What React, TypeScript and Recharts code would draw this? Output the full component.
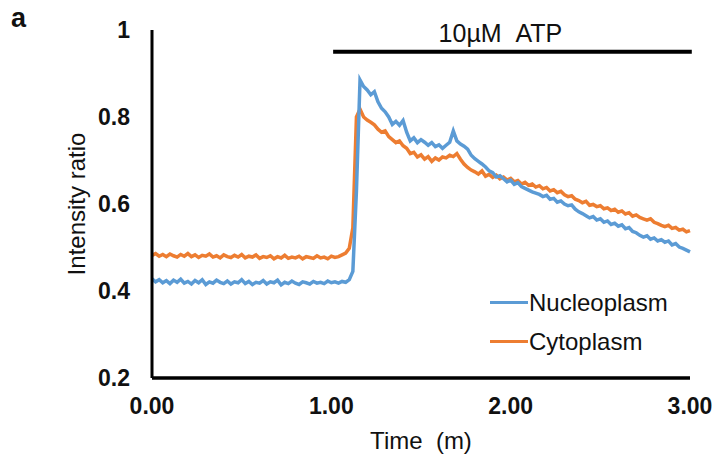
import React from "react"
import {
  LineChart,
  Line,
  XAxis,
  YAxis,
  ReferenceLine,
} from "recharts"

// sample times (minutes)
const times = [
  0.0, 0.02, 0.04, 0.06, 0.08, 0.1, 0.12, 0.14, 0.16, 0.18,
  0.2, 0.22, 0.24, 0.26, 0.28, 0.3, 0.32, 0.34, 0.36, 0.38,
  0.4, 0.42, 0.44, 0.46, 0.48, 0.5, 0.52, 0.54, 0.56, 0.58,
  0.6, 0.62, 0.64, 0.66, 0.68, 0.7, 0.72, 0.74, 0.76, 0.78,
  0.8, 0.82, 0.84, 0.86, 0.88, 0.9, 0.92, 0.94, 0.96, 0.98,
  1.0, 1.02, 1.04, 1.06, 1.08, 1.1, 1.12, 1.14, 1.16, 1.18,
  1.2, 1.22, 1.24, 1.26, 1.28, 1.3, 1.32, 1.34, 1.36, 1.38,
  1.4, 1.42, 1.44, 1.46, 1.48, 1.5, 1.52, 1.54, 1.56, 1.58,
  1.6, 1.62, 1.64, 1.66, 1.68, 1.7, 1.72, 1.74, 1.76, 1.78,
  1.8, 1.82, 1.84, 1.86, 1.88, 1.9, 1.92, 1.94, 1.96, 1.98,
  2.0, 2.02, 2.04, 2.06, 2.08, 2.1, 2.12, 2.14, 2.16, 2.18,
  2.2, 2.22, 2.24, 2.26, 2.28, 2.3, 2.32, 2.34, 2.36, 2.38,
  2.4, 2.42, 2.44, 2.46, 2.48, 2.5, 2.52, 2.54, 2.56, 2.58,
  2.6, 2.62, 2.64, 2.66, 2.68, 2.7, 2.72, 2.74, 2.76, 2.78,
  2.8, 2.82, 2.84, 2.86, 2.88, 2.9, 2.92, 2.94, 2.96, 2.98,
  3.0,
]

const nucleoplasm = [
  0.428, 0.421, 0.426, 0.419, 0.424, 0.417, 0.425, 0.42, 0.427, 0.418,
  0.422, 0.416, 0.424, 0.419, 0.426, 0.415, 0.421, 0.418, 0.425, 0.42,
  0.417, 0.423, 0.416, 0.421, 0.419, 0.426, 0.417, 0.422, 0.415, 0.42,
  0.418, 0.424, 0.416, 0.421, 0.419, 0.425, 0.414, 0.42, 0.417, 0.423,
  0.418, 0.415, 0.421, 0.419, 0.416, 0.422, 0.418, 0.42, 0.417, 0.423,
  0.419, 0.421, 0.418, 0.422, 0.42, 0.426, 0.445, 0.63, 0.885, 0.87,
  0.862, 0.851, 0.858, 0.835, 0.82, 0.812, 0.8, 0.783, 0.79, 0.781,
  0.792, 0.765, 0.745, 0.752, 0.741, 0.748, 0.742, 0.735, 0.741, 0.732,
  0.736, 0.728, 0.735, 0.742, 0.768, 0.745, 0.738, 0.733, 0.726, 0.712,
  0.704, 0.698, 0.692, 0.685, 0.676, 0.672, 0.662, 0.665, 0.658, 0.651,
  0.655, 0.645, 0.649, 0.64, 0.636, 0.632, 0.628, 0.625, 0.622, 0.617,
  0.62, 0.611, 0.613, 0.604, 0.607, 0.6, 0.596, 0.598, 0.588, 0.582,
  0.578, 0.573, 0.568, 0.571, 0.563, 0.566, 0.558, 0.561, 0.553, 0.556,
  0.549, 0.552, 0.543, 0.546, 0.537, 0.534, 0.528, 0.524, 0.527, 0.519,
  0.522, 0.515, 0.518, 0.512, 0.515, 0.506, 0.509, 0.501, 0.498, 0.494,
  0.49,
]

const cytoplasm = [
  0.482, 0.486, 0.48, 0.484, 0.479, 0.485, 0.481, 0.478, 0.484, 0.48,
  0.486, 0.479, 0.483, 0.477, 0.482, 0.48, 0.485, 0.478, 0.481, 0.476,
  0.483, 0.479, 0.477, 0.482, 0.478, 0.484, 0.476, 0.48, 0.478, 0.483,
  0.475, 0.479, 0.477, 0.481, 0.474, 0.479, 0.476, 0.482, 0.475, 0.478,
  0.476, 0.48, 0.474, 0.479, 0.477, 0.475, 0.481, 0.476, 0.478, 0.474,
  0.48, 0.477, 0.479, 0.483, 0.487, 0.498, 0.545, 0.8, 0.818, 0.8,
  0.793, 0.788, 0.782, 0.772, 0.765, 0.768, 0.755, 0.748, 0.741, 0.745,
  0.734, 0.728, 0.716, 0.719, 0.708, 0.713, 0.703, 0.709, 0.698, 0.706,
  0.701, 0.708, 0.706, 0.712, 0.709, 0.716, 0.703, 0.692, 0.684, 0.678,
  0.674, 0.669, 0.676, 0.664, 0.668, 0.661, 0.666, 0.658, 0.662, 0.655,
  0.659, 0.651, 0.654, 0.646, 0.65, 0.643, 0.646, 0.639, 0.642, 0.635,
  0.638, 0.63, 0.633, 0.626, 0.629, 0.621, 0.617, 0.619, 0.611, 0.608,
  0.603, 0.606, 0.597, 0.599, 0.594, 0.596, 0.589, 0.591, 0.585, 0.588,
  0.581, 0.584, 0.577, 0.58, 0.572, 0.575, 0.569, 0.566, 0.563, 0.566,
  0.558, 0.555, 0.551, 0.548, 0.551, 0.544, 0.546, 0.54, 0.542, 0.536,
  0.539,
]

const xTicks = [0, 1, 2, 3]
const yTicks = [0.2, 0.4, 0.6, 0.8, 1]
const seriesNames = ["Nucleoplasm", "Cytoplasm"]

const BLUE = "#5b9bd5"
const ORANGE = "#ed7d31"
const FONT = "'Liberation Sans', Arial, sans-serif"

const chartData = times.map((t, i) => ({
  t,
  nucleoplasm: nucleoplasm[i],
  cytoplasm: cytoplasm[i],
}))

function LegendBox() {
  const colors = [BLUE, ORANGE]
  return (
    <div style={{ position: "absolute", left: 490, top: 283, fontFamily: FONT }}>
      {seriesNames.map((name, i) => (
        <div key={name} style={{ display: "flex", alignItems: "center", height: 39 }}>
          <div style={{ width: 38, height: 3, background: colors[i] }} />
          <span style={{ fontSize: 24, color: "#111", marginLeft: 1 }}>{name}</span>
        </div>
      ))}
    </div>
  )
}

export default function App() {
  return (
    <div style={{ position: "absolute", left: 0, top: 0, width: 717, height: 465, background: "#fff" }}>
      <LineChart
        width={717}
        height={465}
        data={chartData}
        margin={{ top: 30, right: 27, bottom: 0, left: 0 }}
      >
        <XAxis
          dataKey="t"
          type="number"
          domain={[0, 3]}
          ticks={xTicks}
          tickFormatter={(v: number) => v.toFixed(2)}
          tickLine={false}
          tickSize={8}
          tickMargin={12}
          height={87}
          axisLine={{ stroke: "#000", strokeWidth: 3.5 }}
          tick={{ fontSize: 23, fontWeight: 700, fill: "#111", fontFamily: FONT }}
          label={{
            value: "Time\u00a0\u00a0(m)",
            position: "insideBottom",
            offset: 16,
            style: { fontSize: 24, fill: "#111", fontFamily: FONT },
          }}
        />
        <YAxis
          domain={[0.2, 1]}
          ticks={yTicks}
          tickFormatter={(v: number) => (v === 1 ? "1" : v.toFixed(1))}
          tickLine={false}
          tickSize={8}
          tickMargin={14}
          width={152}
          axisLine={{ stroke: "#000", strokeWidth: 3 }}
          tick={{ fontSize: 23, fontWeight: 700, fill: "#111", fontFamily: FONT }}
          label={{
            value: "Intensity ratio",
            angle: -90,
            position: "center",
            style: { fontSize: 24, fill: "#111", fontFamily: FONT, textAnchor: "middle" },
          }}
        />
        <ReferenceLine
          segment={[
            { x: 1.01, y: 0.95 },
            { x: 3.01, y: 0.95 },
          ]}
          stroke="#000"
          strokeWidth={4}
          ifOverflow="visible"
          label={{
            value: "10\u00b5M\u00a0\u00a0ATP",
            position: "top",
            offset: 10,
            dx: -12,
            style: { fontSize: 25, fill: "#111", fontFamily: FONT },
          }}
        />
        <Line
          type="linear"
          dataKey="cytoplasm"
          stroke={ORANGE}
          strokeWidth={3.5}
          dot={false}
          isAnimationActive={false}
        />
        <Line
          type="linear"
          dataKey="nucleoplasm"
          stroke={BLUE}
          strokeWidth={3.5}
          dot={false}
          isAnimationActive={false}
        />
      </LineChart>
      <LegendBox />
      <div
        style={{
          position: "absolute",
          left: 11,
          top: 3,
          fontFamily: FONT,
          fontWeight: 700,
          fontSize: 27,
          color: "#111",
        }}
      >
        a
      </div>
    </div>
  )
}
